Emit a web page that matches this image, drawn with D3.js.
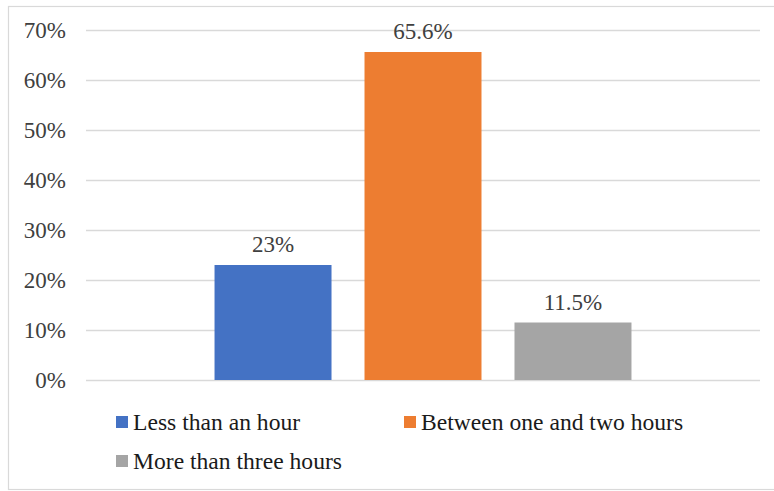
<!DOCTYPE html>
<html>
<head>
<meta charset="utf-8">
<script src="https://cdn.jsdelivr.net/npm/d3@7"></script>
<style>
  html, body { margin: 0; padding: 0; background: #fff; }
  svg { display: block; }
</style>
</head>
<body>
<div id="chart"></div>
<script>
// Share of respondents by daily time spent
const series = ["Less than an hour", "Between one and two hours", "More than three hours"];
const values = [23, 65.6, 11.5];
const valueLabels = ["23%", "65.6%", "11.5%"];
const colors = ["#4472C4", "#ED7D31", "#A5A5A5"];
const yTicks = [0, 10, 20, 30, 40, 50, 60, 70];

const W = 774, H = 491;
const plot = { left: 86, right: 760, top: 30, bottom: 380 };
const font = "'Liberation Serif', 'Times New Roman', serif";

const svg = d3.select("#chart").append("svg")
  .attr("width", W).attr("height", H);

// chart frame
svg.append("rect")
  .attr("x", 8.5).attr("y", 6.5)
  .attr("width", 770).attr("height", 483)
  .attr("fill", "#fff")
  .attr("stroke", "#d9d9d9").attr("stroke-width", 1.2);

const x = d3.scaleBand()
  .domain(series)
  .range([plot.left, plot.right])
  .paddingInner(0.22)
  .paddingOuter(0.857);

const y = d3.scaleLinear()
  .domain([0, 70])
  .range([plot.bottom, plot.top]);

// horizontal gridlines with percentage labels
const yAxis = d3.axisLeft(y)
  .tickValues(yTicks)
  .tickSize(-(plot.right - plot.left))
  .tickPadding(20)
  .tickFormat(d => d + "%");

const gy = svg.append("g")
  .attr("transform", `translate(${plot.left},0)`)
  .call(yAxis);
gy.select(".domain").remove();
gy.selectAll(".tick line")
  .attr("stroke", "#d9d9d9").attr("stroke-width", 1.3);
gy.selectAll(".tick text")
  .attr("font-family", font)
  .attr("font-size", 23)
  .attr("fill", "#404040");

// bars
svg.append("g").selectAll("rect")
  .data(series)
  .join("rect")
  .attr("x", d => x(d))
  .attr("width", x.bandwidth())
  .attr("y", (d, i) => y(values[i]))
  .attr("height", (d, i) => y(0) - y(values[i]))
  .attr("fill", (d, i) => colors[i]);

// value labels above bars
svg.append("g").selectAll("text")
  .data(series)
  .join("text")
  .attr("x", d => x(d) + x.bandwidth() / 2)
  .attr("y", (d, i) => y(values[i]) - 13)
  .attr("text-anchor", "middle")
  .attr("font-family", font)
  .attr("font-size", 23)
  .attr("fill", "#404040")
  .text((d, i) => valueLabels[i]);

// legend
const legendPos = [[116, 422], [404, 422], [116, 461]];
const lg = svg.append("g").selectAll("g")
  .data(series)
  .join("g")
  .attr("transform", (d, i) => `translate(${legendPos[i][0]},${legendPos[i][1]})`);
lg.append("rect")
  .attr("x", 0).attr("y", -6)
  .attr("width", 12).attr("height", 12)
  .attr("fill", (d, i) => colors[i]);
lg.append("text")
  .attr("x", 17).attr("y", 0)
  .attr("dy", "0.35em")
  .attr("font-family", font)
  .attr("font-size", 23.6)
  .attr("fill", "#1a1a1a")
  .text(d => d);
</script>
</body>
</html>
